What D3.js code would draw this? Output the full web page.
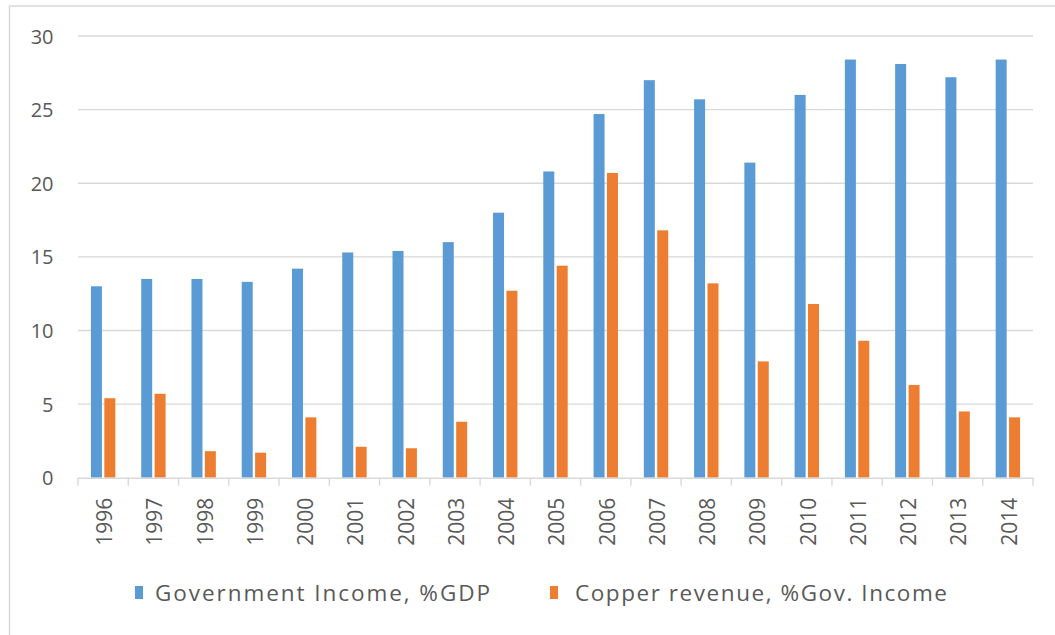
<!DOCTYPE html>
<html>
<head>
<meta charset="utf-8">
<script src="https://cdn.jsdelivr.net/npm/d3@7"></script>
<style>
  html, body { margin: 0; padding: 0; background: #fff; }
  svg { display: block; }
  text { font-family: "Open Sans", "Segoe UI", sans-serif; fill: #595959; }
</style>
</head>
<body>
<svg id="chart" width="1055" height="635"></svg>
<script>
const years = ["1996","1997","1998","1999","2000","2001","2002","2003","2004","2005","2006","2007","2008","2009","2010","2011","2012","2013","2014"];
const govIncome = [13.0, 13.5, 13.5, 13.3, 14.2, 15.3, 15.4, 16.0, 18.0, 20.8, 24.7, 27.0, 25.7, 21.4, 26.0, 28.4, 28.1, 27.2, 28.4];
const copperRevenue = [5.4, 5.7, 1.8, 1.7, 4.1, 2.1, 2.0, 3.8, 12.7, 14.4, 20.7, 16.8, 13.2, 7.9, 11.8, 9.3, 6.3, 4.5, 4.1];
const seriesNames = ["Government Income, %GDP", "Copper revenue, %Gov. Income"];
const seriesColors = ["#5b9bd5", "#ed7d31"];
const yTicks = [0, 5, 10, 15, 20, 25, 30];

const svg = d3.select("#chart");
const margin = { left: 78, right: 1033, top: 36, bottom: 477.7 };

// outer chart border (top & left visible)
svg.append("rect")
  .attr("x", 9.5).attr("y", 6)
  .attr("width", 1100).attr("height", 700)
  .attr("fill", "none").attr("stroke", "#d9d9d9").attr("stroke-width", 1.5);

const x = d3.scaleBand().domain(years).range([margin.left, margin.right]).padding(0);
const y = d3.scaleLinear().domain([0, 30]).range([margin.bottom, margin.top]);
const bw = x.bandwidth();
const inner = d3.scaleBand().domain([0, 1])
  .range([(bw - 24.4) / 2, (bw + 24.4) / 2])
  .paddingInner(0.179).paddingOuter(0);

// gridlines
svg.append("g")
  .selectAll("line")
  .data(yTicks.filter(d => d > 0))
  .join("line")
  .attr("x1", margin.left).attr("x2", margin.right)
  .attr("y1", d => y(d)).attr("y2", d => y(d))
  .attr("stroke", "#d9d9d9").attr("stroke-width", 1.4);

// y axis labels
const yAxis = d3.axisLeft(y).tickValues(yTicks).tickSize(0).tickPadding(0);
const gy = svg.append("g").attr("transform", "translate(53.5,0)").call(yAxis);
gy.select(".domain").remove();
gy.selectAll("text")
  .attr("font-size", 20)
  .attr("font-family", "Open Sans")
  .attr("fill", "#595959")
  .attr("dy", "0.35em");

// bars
const series = [govIncome, copperRevenue];
series.forEach((vals, si) => {
  svg.append("g")
    .selectAll("rect")
    .data(vals)
    .join("rect")
    .attr("x", (d, i) => x(years[i]) + inner(si))
    .attr("width", inner.bandwidth())
    .attr("y", d => y(d))
    .attr("height", d => y(0) - y(d))
    .attr("fill", seriesColors[si]);
});

// x axis
const xAxis = d3.axisBottom(x).tickSize(0).tickPadding(0);
const gx = svg.append("g").attr("transform", `translate(0,${margin.bottom})`).call(xAxis);
gx.select(".domain").attr("stroke", "#d9d9d9").attr("stroke-width", 1.4);
gx.selectAll(".tick line").remove();
gx.selectAll(".tick text")
  .attr("font-size", 21)
  .attr("font-family", "Open Sans")
  .attr("fill", "#595959")
  .attr("transform", "rotate(-90)")
  .attr("text-anchor", "end")
  .attr("x", -20)
  .attr("y", 1.5)
  .attr("dy", "0.35em");
// category boundary tick marks
const bounds = years.map(d => x(d)).concat([margin.right]);
svg.append("g")
  .selectAll("line")
  .data(bounds)
  .join("line")
  .attr("x1", d => d).attr("x2", d => d)
  .attr("y1", margin.bottom).attr("y2", margin.bottom + 8)
  .attr("stroke", "#d9d9d9").attr("stroke-width", 1.4);

// legend
const legendX = [135, 550];
const legendTextX = [155, 575];
const legendTextW = [335, 372];
const lg = svg.append("g");
seriesNames.forEach((name, i) => {
  lg.append("rect")
    .attr("x", legendX[i]).attr("y", 586)
    .attr("width", 8).attr("height", 13)
    .attr("fill", seriesColors[i]);
  lg.append("text")
    .attr("x", legendTextX[i]).attr("y", 601)
    .attr("font-size", 22.5)
    .attr("textLength", legendTextW[i])
    .attr("lengthAdjust", "spacing")
    .text(name);
});
</script>
</body>
</html>
